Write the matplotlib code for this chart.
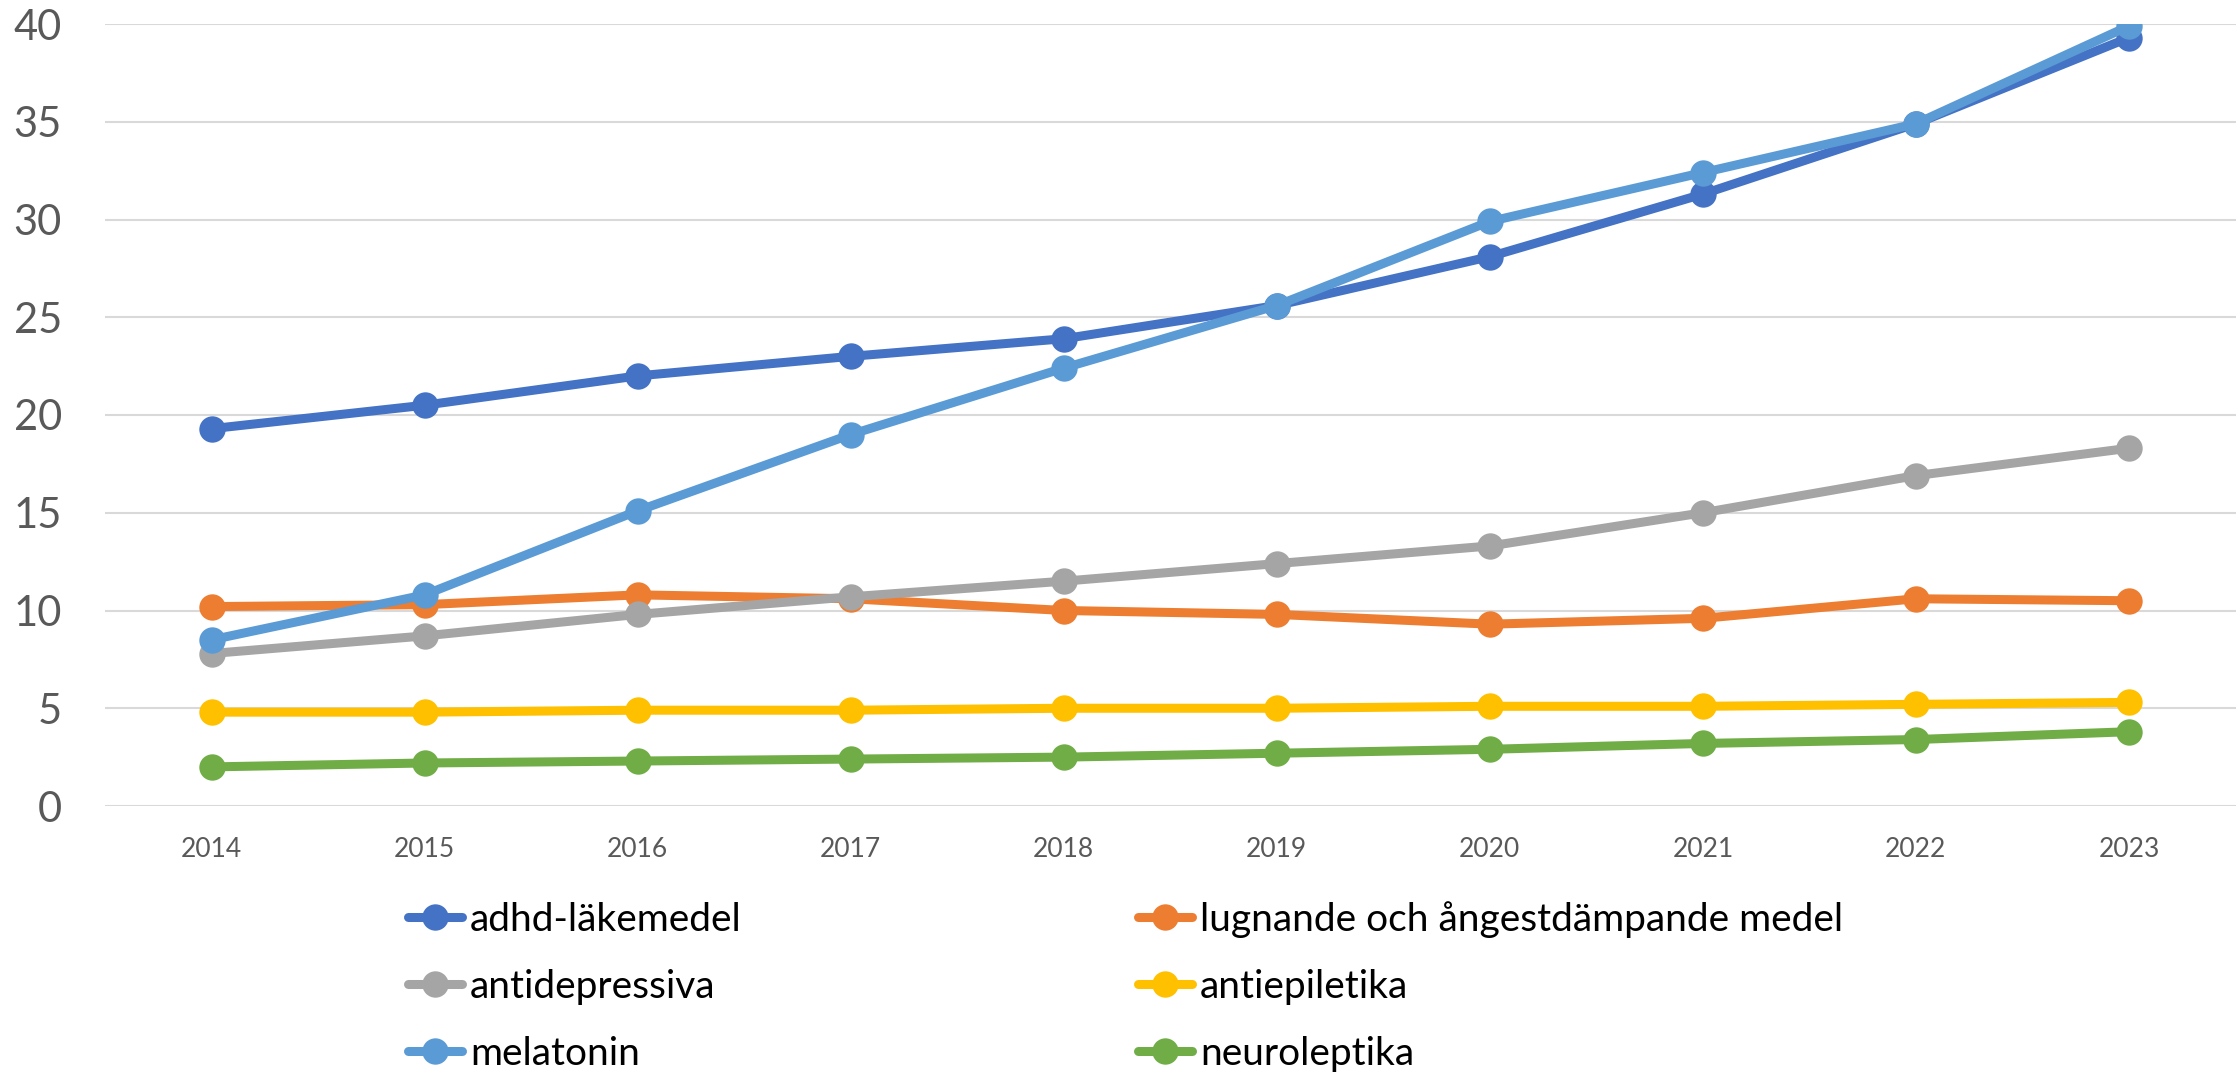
import matplotlib
matplotlib.use("Agg")
import matplotlib.pyplot as plt

years = [2014, 2015, 2016, 2017, 2018, 2019, 2020, 2021, 2022, 2023]
year_labels = [str(y) for y in years]

adhd = [19.3, 20.5, 22.0, 23.0, 23.9, 25.6, 28.1, 31.3, 34.9, 39.3]
lugnande = [10.2, 10.3, 10.8, 10.6, 10.0, 9.8, 9.3, 9.6, 10.6, 10.5]
antidepressiva = [7.8, 8.7, 9.8, 10.7, 11.5, 12.4, 13.3, 15.0, 16.9, 18.3]
antiepiletika = [4.8, 4.8, 4.9, 4.9, 5.0, 5.0, 5.1, 5.1, 5.2, 5.3]
melatonin = [8.5, 10.8, 15.1, 19.0, 22.4, 25.6, 29.9, 32.4, 34.9, 39.9]
neuroleptika = [2.0, 2.2, 2.3, 2.4, 2.5, 2.7, 2.9, 3.2, 3.4, 3.8]

series_names = ["adhd-läkemedel", "lugnande och ångestdämpande medel",
                "antidepressiva", "antiepiletika", "melatonin", "neuroleptika"]
series_values = [adhd, lugnande, antidepressiva, antiepiletika, melatonin, neuroleptika]
colors = ["#4472C4", "#ED7D31", "#A5A5A5", "#FFC000", "#5B9BD5", "#70AD47"]

y_ticks = [0, 5, 10, 15, 20, 25, 30, 35, 40]

plt.rcParams["font.family"] = ["Lato", "DejaVu Sans"]

W, H = 2239, 1074
fig = plt.figure(figsize=(W / 100, H / 100), dpi=100)
ax = fig.add_axes([105 / W, 1 - 806 / H, (2235.5 - 105) / W, (806 - 24) / H])

x = list(range(len(years)))
handles = []
for name, vals, c in zip(series_names, series_values, colors):
    h, = ax.plot(x, vals, color=c, lw=6.5, marker="o", markersize=19,
                 markeredgewidth=0, label=name, solid_capstyle="round",
                 solid_joinstyle="round", zorder=3)
    handles.append(h)

ax.set_xlim(-0.5, len(years) - 0.5)
ax.set_ylim(0, 40)
ax.set_yticks(y_ticks)
ax.set_yticklabels([str(t) for t in y_ticks])
ax.set_xticks(x)
ax.set_xticklabels(year_labels)
ax.tick_params(axis="y", length=0, pad=31, labelsize=30, labelcolor="#595959")
ax.tick_params(axis="x", length=0, pad=22, labelsize=19, labelcolor="#595959")
ax.grid(axis="y", color="#D9D9D9", lw=1.5, zorder=0)
for s in ax.spines.values():
    s.set_visible(False)
ax.set_axisbelow(True)

# legend is filled row by row in the reference (2 columns)
order = [0, 2, 4, 1, 3, 5]
leg = fig.legend(handles=[handles[i] for i in order], loc="upper left",
                 bbox_to_anchor=(408 / W, 1 - 901 / H), ncol=2,
                 frameon=False, fontsize=28, handlelength=1.39,
                 handletextpad=0.2, columnspacing=10.2, labelspacing=0.8,
                 borderpad=0, borderaxespad=0)
for t in leg.get_texts():
    t.set_color("black")

fig.savefig("out.png", dpi=100)
